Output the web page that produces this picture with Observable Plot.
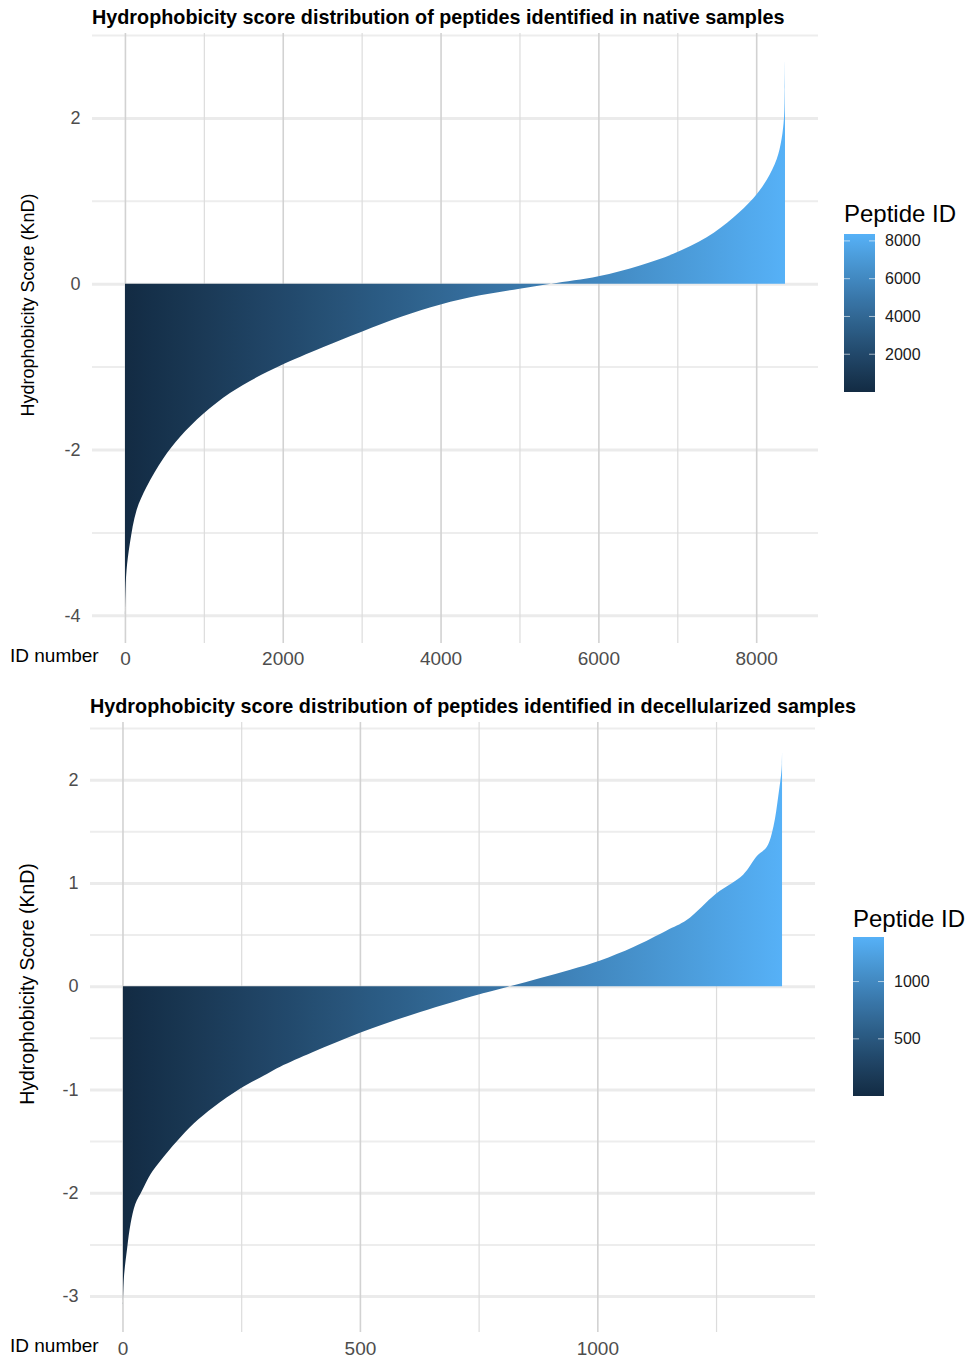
<!DOCTYPE html>
<html><head><meta charset="utf-8">
<script src="https://cdn.jsdelivr.net/npm/d3@7"></script>
<script src="https://cdn.jsdelivr.net/npm/@observablehq/plot@0.6"></script>
<style>
html,body{margin:0;padding:0;background:#fff;}
#page{position:relative;width:967px;height:1359px;overflow:hidden;font-family:"Liberation Sans",Arial,Helvetica,sans-serif;}
#page > svg{position:absolute;left:0;}
</style></head><body><div id="page"></div>
<script>
const nativeIds    = [1, 5, 20, 63, 148, 275, 486, 697, 993, 1331, 1669, 1965, 2500, 3000, 3500, 4000, 4500, 5000, 5400, 6000, 6527, 6949, 7372, 7710, 7963, 8132, 8259, 8322, 8352, 8362, 8365];
const nativeScores = [-4.0, -3.75, -3.46, -3.13, -2.73, -2.45, -2.11, -1.85, -1.57, -1.32, -1.13, -0.99, -0.77, -0.58, -0.40, -0.25, -0.14, -0.06, 0.0, 0.09, 0.22, 0.36, 0.56, 0.80, 1.03, 1.25, 1.50, 1.75, 2.00, 2.35, 2.69];

const decellIds    = [1, 3, 10, 17, 27, 41, 59, 80, 115, 150, 192, 248, 304, 332, 400, 500, 627, 750, 816, 880, 943, 1006, 1076, 1146, 1188, 1251, 1307, 1336, 1357, 1371, 1381, 1388, 1389];
const decellScores = [-3.08, -2.82, -2.53, -2.30, -2.11, -1.98, -1.82, -1.69, -1.50, -1.33, -1.17, -0.99, -0.85, -0.78, -0.64, -0.45, -0.25, -0.08, 0.0, 0.08, 0.16, 0.25, 0.38, 0.54, 0.64, 0.90, 1.08, 1.26, 1.35, 1.55, 1.84, 2.10, 2.29];

const nativeXTicks = [0, 2000, 4000, 6000, 8000];
const nativeXMinor = [1000, 3000, 5000, 7000];
const nativeYTicks = [-4, -2, 0, 2];
const nativeYMinor = [-3, -1, 1, 3];
const nativeLegendTicks = [2000, 4000, 6000, 8000];

const decellXTicks = [0, 500, 1000];
const decellXMinor = [250, 750, 1250];
const decellYTicks = [-3, -2, -1, 0, 1, 2];
const decellYMinor = [-2.5, -1.5, -0.5, 0.5, 1.5, 2.5];
const decellLegendTicks = [500, 1000];

const nativeTitle = "Hydrophobicity score distribution of peptides identified in native samples";
const decellTitle = "Hydrophobicity score distribution of peptides identified in decellularized samples";
const yTitle = "Hydrophobicity Score (KnD)";
const xTitle = "ID number";
const legendTitle = "Peptide ID";

const lowColor = "#132B43", highColor = "#56B1F7";
const FONT = '"Liberation Sans", Arial, Helvetica, sans-serif';
const NS = "http://www.w3.org/2000/svg";

function expand(ext) { const p = (ext[1] - ext[0]) * 0.05; return [ext[0] - p, ext[1] + p]; }
function makeColor(ext) {
  try {
    const sc = Plot.scale({color: {type: "linear", domain: ext, range: [lowColor, highColor], interpolate: "lab"}});
    if (sc && sc.apply) return v => sc.apply(v);
  } catch (e) {}
  return d3.scaleLinear().domain(ext).range([lowColor, highColor]).interpolate(d3.interpolateLab);
}
function el(name, attrs, parent) {
  const e = document.createElementNS(NS, name);
  for (const k in attrs) e.setAttribute(k, attrs[k]);
  if (parent) parent.appendChild(e);
  return e;
}
function addGradient(svg, id, colorOf, ext, vertical) {
  let defs = svg.querySelector("defs");
  if (!defs) { defs = el("defs", {}); svg.insertBefore(defs, svg.firstChild); }
  const lg = el("linearGradient", vertical ? {id, x1: 0, y1: 1, x2: 0, y2: 0} : {id, x1: 0, y1: 0, x2: 1, y2: 0}, defs);
  for (let k = 0; k <= 24; k++) {
    const t = k / 24;
    el("stop", {offset: t, "stop-color": colorOf(ext[0] + t * (ext[1] - ext[0]))}, lg);
  }
}

const page = document.getElementById("page");

function makeChart(o) {
  const data = o.ids.map((id, i) => ({id, score: o.scores[i]}));
  const idExt = d3.extent(o.ids);
  const svg = Plot.plot({
    width: 967, height: o.height,
    marginTop: o.mt, marginBottom: o.mb, marginLeft: o.ml, marginRight: o.mr,
    style: {fontFamily: FONT, fontSize: "18px", color: "#4d4d4d", background: "transparent", overflow: "visible"},
    x: {domain: expand(idExt), ticks: o.xTicks, tickFormat: d => String(d), tickSize: 0, tickPadding: o.xpad, label: null},
    y: {domain: expand(d3.extent(o.scores)), ticks: o.yTicks, tickFormat: d => String(d), tickSize: 0, tickPadding: 12, label: null},
    marks: [
      Plot.ruleY(o.yMinor, {stroke: "#ededed", strokeWidth: 2}),
      Plot.ruleY(o.yTicks, {stroke: "#ebebeb", strokeWidth: 3}),
      Plot.ruleX(o.xMinor, {stroke: "#dcdcdc", strokeWidth: 1.2}),
      Plot.ruleX(o.xTicks, {stroke: "#d2d2d2", strokeWidth: 1.6}),
      Plot.areaY(data, {x: "id", y: "score", curve: "catmull-rom", fill: "black"})
    ]
  });
  svg.style.top = o.top + "px";
  // x tick labels slightly larger than y tick labels, as in the reference
  svg.querySelectorAll('g[aria-label^="x-axis"] text').forEach(t => t.setAttribute("font-size", "19px"));
  const colorOf = makeColor(idExt);
  addGradient(svg, o.gid, colorOf, idExt, false);
  svg.querySelectorAll('g[aria-label="area"] path').forEach(p => p.setAttribute("fill", `url(#${o.gid})`));
  page.appendChild(svg);
  return {idExt, colorOf};
}

const c1 = makeChart({ids: nativeIds, scores: nativeScores, height: 680, top: 0, mt: 33, mb: 37, ml: 92, mr: 149, xpad: 8,
  xTicks: nativeXTicks, xMinor: nativeXMinor, yTicks: nativeYTicks, yMinor: nativeYMinor, gid: "gradNative"});
const c2 = makeChart({ids: decellIds, scores: decellScores, height: 669, top: 690, mt: 32, mb: 27, ml: 90, mr: 152, xpad: 9,
  xTicks: decellXTicks, xMinor: decellXMinor, yTicks: decellYTicks, yMinor: decellYMinor, gid: "gradDecell"});

// ---- overlay: titles, axis titles, legends ----
const ov = el("svg", {width: 967, height: 1359, "font-family": FONT});
ov.style.top = "0px"; ov.style.pointerEvents = "none";
page.appendChild(ov);

function txt(s, attrs) { const t = el("text", attrs, ov); t.textContent = s; return t; }
txt(nativeTitle, {x: 92, y: 24, "font-size": 19.8, "font-weight": "bold", fill: "#000"});
txt(decellTitle, {x: 90, y: 713, "font-size": 19.8, "font-weight": "bold", fill: "#000"});
txt(xTitle, {x: 10, y: 662, "font-size": 19, fill: "#000"});
txt(xTitle, {x: 10, y: 1352, "font-size": 19, fill: "#000"});
txt(yTitle, {transform: "translate(34,305) rotate(-90)", "text-anchor": "middle", "font-size": 18, fill: "#000"});
txt(yTitle, {transform: "translate(34,984) rotate(-90)", "text-anchor": "middle", "font-size": 19.5, fill: "#000"});

function legend(c, ticks, lx, ly, lw, lh, titleY, gid) {
  addGradient(ov, gid, c.colorOf, c.idExt, true);
  const s = d3.scaleLinear().domain(c.idExt).range([ly + lh, ly]);
  txt(legendTitle, {x: lx, y: titleY, "font-size": 24, fill: "#000"});
  el("rect", {x: lx, y: ly, width: lw, height: lh, fill: `url(#${gid})`}, ov);
  for (const t of ticks) {
    const y = s(t);
    el("line", {x1: lx, x2: lx + 6, y1: y, y2: y, stroke: "#fff", "stroke-opacity": 0.6, "stroke-width": 1}, ov);
    el("line", {x1: lx + lw - 6, x2: lx + lw, y1: y, y2: y, stroke: "#fff", "stroke-opacity": 0.6, "stroke-width": 1}, ov);
    txt(String(t), {x: lx + lw + 10, y, dy: "0.35em", "font-size": 16, fill: "#1a1a1a"});
  }
}
legend(c1, nativeLegendTicks, 844, 234, 31, 158, 221.5, "legNative");
legend(c2, decellLegendTicks, 853, 937, 31, 159, 926.5, "legDecell");
</script></body></html>
